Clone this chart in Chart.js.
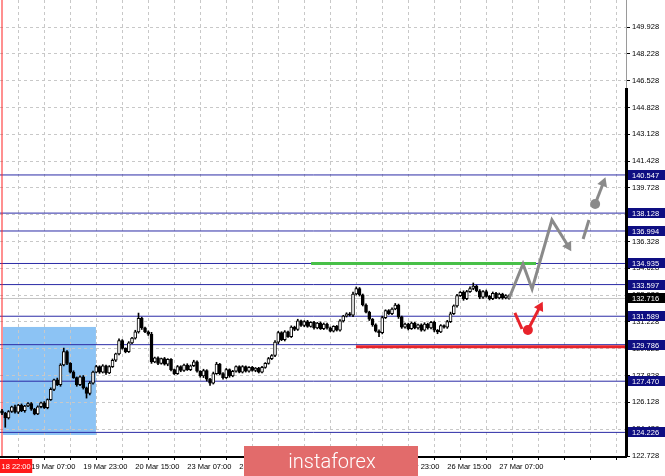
<!DOCTYPE html>
<html>
<head>
<meta charset="utf-8">
<script src="https://cdn.jsdelivr.net/npm/chart.js@4.4.1/dist/chart.umd.min.js"></script>
<style>
  html, body { margin: 0; padding: 0; background: #fff; }
  #wrap { width: 665px; height: 476px; }
</style>
</head>
<body>
<div id="wrap"><canvas id="chart" width="665" height="476"></canvas></div>
<script>
// --- Hourly candles, 18 Mar 22:00 onwards ---
const firstOpen = 125.60;
const closes = [
  125.45, 125.15, 125.55, 125.85, 125.50, 125.95, 125.60, 125.90, 126.05, 125.70,
  125.40, 125.85, 126.10, 125.80, 126.30, 126.95, 127.55, 127.25, 128.50, 129.35,
  128.60, 128.05, 127.70, 127.25, 127.75, 127.05, 126.70, 127.35, 128.05, 128.40,
  128.05, 128.45, 128.00, 128.40, 128.80, 129.20, 130.05, 129.55, 129.35, 129.90,
  130.20, 130.60, 131.45, 130.85, 130.60, 130.45, 128.70, 128.95, 128.60, 128.90,
  128.55, 128.85, 128.20, 127.95, 128.40, 128.15, 128.50, 128.20, 128.45, 128.70,
  128.10, 127.80, 128.15, 127.60, 127.35, 127.95, 128.55, 127.95, 127.70, 128.20,
  127.80, 128.10, 128.40, 128.05, 128.40, 128.10, 128.35, 128.15, 128.30, 128.05,
  128.35, 128.60, 128.90, 129.10, 129.95, 130.55, 130.10, 130.60, 130.30, 130.90,
  130.75, 131.30, 131.00, 131.25, 130.95, 131.20, 130.85, 131.15, 130.80, 131.10,
  130.85, 130.65, 130.95, 130.70, 131.30, 131.60, 131.75, 131.65, 133.00, 133.35,
  132.95, 132.30, 131.85, 131.40, 131.05, 130.65, 130.55, 131.50, 131.95, 131.75,
  132.05, 132.30, 131.55, 130.90, 131.10, 130.80, 131.15, 130.85, 131.05, 130.70,
  131.10, 130.85, 131.20, 130.70, 130.60, 131.00, 130.90, 131.25, 131.75, 132.25,
  132.90, 133.10, 132.70, 133.15, 133.35, 133.50, 133.20, 132.80, 133.15, 132.85,
  132.70, 133.05, 132.75, 133.00, 132.75, 132.90, 132.716
];
// wick lengths above / below the body, in hundredths
const wickUp = [
  8, 5, 6, 4, 10, 5, 8, 4, 6, 7,
  5, 6, 4, 8, 5, 10, 6, 12, 8, 22,
  6, 5, 8, 4, 6, 8, 5, 10, 6, 8,
  5, 7, 4, 6, 8, 5, 10, 6, 4, 8,
  6, 10, 34, 8, 5, 6, 12, 5, 6, 4,
  8, 5, 6, 4, 7, 5, 6, 8, 5, 10,
  6, 4, 8, 5, 6, 10, 12, 5, 6, 8,
  5, 6, 4, 5, 6, 4, 5, 6, 4, 5,
  6, 5, 8, 6, 10, 8, 6, 8, 5, 8,
  6, 10, 5, 6, 8, 5, 6, 5, 8, 6,
  5, 6, 4, 6, 8, 5, 6, 8, 12, 10,
  6, 5, 8, 6, 5, 6, 8, 10, 5, 6,
  8, 10, 6, 5, 6, 5, 8, 6, 5, 6,
  8, 5, 6, 8, 5, 6, 5, 8, 10, 6,
  8, 6, 10, 8, 10, 20, 6, 8, 6, 10,
  6, 8, 5, 6, 5, 6, 5
];
const wickDn = [
  10, 60, 8, 6, 5, 8, 6, 10, 5, 8,
  6, 5, 8, 6, 8, 5, 8, 6, 10, 6,
  8, 6, 5, 10, 6, 8, 30, 10, 6, 5,
  8, 6, 10, 5, 6, 8, 6, 5, 8, 6,
  5, 6, 8, 10, 6, 8, 10, 6, 8, 5,
  6, 10, 8, 6, 5, 8, 6, 5, 6, 5,
  6, 8, 10, 12, 15, 6, 5, 8, 10, 6,
  8, 5, 6, 5, 6, 5, 6, 5, 8, 6,
  5, 6, 5, 6, 8, 10, 6, 8, 5, 6,
  8, 6, 5, 8, 6, 5, 8, 6, 5, 6,
  8, 5, 6, 5, 6, 8, 6, 5, 8, 6,
  8, 6, 5, 8, 10, 6, 25, 8, 6, 5,
  6, 5, 10, 8, 6, 8, 5, 6, 8, 6,
  5, 8, 6, 10, 12, 5, 6, 8, 6, 5,
  8, 6, 10, 6, 5, 8, 6, 10, 8, 6,
  8, 6, 5, 6, 8, 6, 5
];

// --- Axes ---
const yTicks = [122.728, 124.428, 126.128, 127.828, 129.528, 131.228, 132.928, 134.628,
  136.328, 138.028, 139.728, 141.428, 143.128, 144.828, 146.528, 148.228, 149.928];
const xLabelBars = [9, 25, 41, 57, 73, 89, 105, 121, 137, 153];
const xLabels = ['19 Mar 07:00', '19 Mar 23:00', '20 Mar 15:00', '23 Mar 07:00', '23 Mar 23:00',
  '24 Mar 15:00', '25 Mar 07:00', '25 Mar 23:00', '26 Mar 15:00', '27 Mar 07:00'];
const startLabel = '18 22:00';
const xMin = -0.62, xMax = 192.3;
const yMin = 122.665, yMax = 151.64;

// --- Levels and drawings ---
const levels = [140.547, 138.128, 136.994, 134.935, 133.597, 131.589, 129.786, 127.470, 124.226];
const lastPrice = 132.716;
const greenBars = [95.1, 164.3], greenPrices = [134.935, 134.935];
const redBars = [108.9, 191.7], redPrices = [129.66, 129.66];
const boxBars = [0.3, 28.9], boxPrices = [124.06, 130.91];
const greyPathBars = [156, 160.3, 163.1, 169.2, 174.2];
const greyPathPrices = [132.716, 134.90, 133.32, 137.69, 136.04];
const greyDashBars = [178.8, 180.6], greyDashPrices = [136.49, 137.69];
const greyArrowBars = [182.5, 185.0], greyArrowPrices = [138.71, 140.04];
const redDashBars = [157.8, 160.0], redDashPrices = [131.80, 130.78];
const redArrowBars = [161.8, 165.5], redArrowPrices = [130.72, 132.18];

const opens = closes.map((c, i) => i === 0 ? firstOpen : closes[i - 1]);
const highs = closes.map((c, i) => Math.max(c, opens[i]) + wickUp[i] / 100);
const lows = closes.map((c, i) => Math.min(c, opens[i]) - wickDn[i] / 100);

const pts = (xs, ys) => xs.map((x, i) => ({ x: x, y: ys[i] }));
const GREY = '#8a8a8a';
const RED = '#e8232b';

const lineSet = (data, color, width, order, extra) => Object.assign({
  type: 'line', data: data, borderColor: color, borderWidth: width,
  pointRadius: 0, pointHoverRadius: 0, tension: 0, fill: false, order: order
}, extra || {});

const datasets = [];
levels.forEach(v => datasets.push(lineSet(pts([xMin, xMax], [v, v]), '#2b2ba6', 1, 20)));
datasets.push(lineSet(pts([xMin, xMax], [lastPrice, lastPrice]), '#c4c4c4', 1, 21));
datasets.push(lineSet(pts([0, 0], [yMin, yMax]), '#ff2020', 1, 19));
datasets.push({
  type: 'bar', grouped: false, order: 6, barThickness: 1,
  backgroundColor: '#000', borderWidth: 0,
  data: closes.map((c, i) => ({ x: i, y: [lows[i], highs[i]] }))
});
datasets.push({
  type: 'bar', grouped: false, order: 5, barThickness: 3, minBarLength: 1,
  borderColor: '#000', borderWidth: 1, borderSkipped: false,
  backgroundColor: ctx => {
    const i = ctx.dataIndex;
    return closes[i] >= opens[i] ? '#fff' : '#000';
  },
  data: closes.map((c, i) => ({ x: i, y: [opens[i], c] }))
});
datasets.push(lineSet(pts(greenBars, greenPrices), '#48c048', 3, 3));
datasets.push(lineSet(pts(redBars, redPrices), RED, 3, 3));
datasets.push(lineSet(pts(greyPathBars, greyPathPrices), GREY, 3, 1, {
  pointRadius: [0, 0, 0, 0, 6], pointStyle: 'triangle',
  pointRotation: [0, 0, 0, 0, 149], pointBackgroundColor: GREY, pointBorderWidth: 0
}));
datasets.push(lineSet(pts(greyDashBars, greyDashPrices), GREY, 3, 1));
datasets.push(lineSet(pts(greyArrowBars, greyArrowPrices), GREY, 3, 1, {
  pointRadius: [5, 6], pointStyle: ['circle', 'triangle'],
  pointRotation: [0, 21], pointBackgroundColor: GREY, pointBorderWidth: 0
}));
datasets.push(lineSet(pts(redDashBars, redDashPrices), RED, 3, 1));
datasets.push(lineSet(pts(redArrowBars, redArrowPrices), RED, 3, 1, {
  pointRadius: [5, 6], pointStyle: ['circle', 'triangle'],
  pointRotation: [0, 28], pointBackgroundColor: RED, pointBorderWidth: 0
}));

// background box behind grid, frame + price tags + logo on top
const decor = {
  id: 'decor',
  beforeDraw(chart) {
    const { ctx, scales: { x, y } } = chart;
    ctx.save();
    ctx.fillStyle = '#fff';
    ctx.fillRect(0, 0, chart.width, chart.height);
    const x0 = x.getPixelForValue(boxBars[0]), x1 = x.getPixelForValue(boxBars[1]);
    const y0 = y.getPixelForValue(boxPrices[1]), y1 = y.getPixelForValue(boxPrices[0]);
    ctx.fillStyle = '#8cc3f4';
    ctx.fillRect(x0, y0, x1 - x0, y1 - y0);
    ctx.restore();
  },
  afterDraw(chart) {
    const { ctx, chartArea: a, scales: { y } } = chart;
    ctx.save();
    // frame
    ctx.fillStyle = '#000';
    ctx.fillRect(0, a.bottom - 1, a.right, 2);
    ctx.fillRect(a.right - 2, 88, 3, a.bottom - 88);
    ctx.fillStyle = '#9a9a9a';
    ctx.fillRect(a.right - 1, 0, 1, 88);
    // price tags
    ctx.font = '7.5px "Liberation Sans", Arial, sans-serif';
    ctx.textBaseline = 'middle';
    const tag = (v, bg) => {
      const py = Math.round(y.getPixelForValue(v));
      ctx.fillStyle = bg;
      ctx.fillRect(a.right + 1, py - 5, chart.width - a.right - 1, 10);
      ctx.fillStyle = '#fff';
      ctx.fillText(v.toFixed(3), a.right + 5, py + 0.5);
    };
    levels.forEach(v => tag(v, '#0e0e82'));
    tag(lastPrice, '#000');
    // start time tag
    const w = ctx.measureText(startLabel).width + 3;
    ctx.fillStyle = '#ff1a1a';
    ctx.fillRect(0, a.bottom + 2, w, 14);
    ctx.fillStyle = '#fff';
    ctx.fillText(startLabel, 1.5, a.bottom + 9.5);
    // logo
    ctx.fillStyle = '#e26b6b';
    ctx.fillRect(244, 446, 174, 30);
    ctx.fillStyle = '#fff';
    ctx.font = '300 20px Roboto, "Open Sans", sans-serif';
    ctx.textAlign = 'center';
    ctx.textBaseline = 'alphabetic';
    ctx.fillText('instaforex', 332, 468);
    ctx.restore();
  }
};

const noPad = s => { s.paddingTop = 0; s.paddingBottom = 0; s.paddingLeft = 0; s.paddingRight = 0; };

Chart.defaults.font.family = '"Liberation Sans", Arial, sans-serif';
Chart.defaults.font.size = 7.5;
Chart.defaults.color = '#000';

new Chart(document.getElementById('chart'), {
  type: 'bar',
  data: { datasets: datasets },
  options: {
    responsive: false,
    animation: false,
    devicePixelRatio: 1,
    layout: { padding: 0, autoPadding: false },
    plugins: { legend: { display: false }, tooltip: { enabled: false } },
    scales: {
      x: {
        type: 'linear', min: xMin, max: xMax, offset: false,
        afterFit: s => { s.height = 19; noPad(s); },
        afterBuildTicks: s => {
          const t = [];
          for (let b = 1; b < xMax; b += 8) t.push({ value: b });
          s.ticks = t;
        },
        ticks: {
          autoSkip: false, maxRotation: 0, align: 'start', padding: 2,
          callback: v => {
            const k = xLabelBars.indexOf(v);
            return k >= 0 ? xLabels[k] : '';
          }
        },
        grid: { color: '#c8c8c8', tickColor: '#000', tickLength: 3 },
        border: { display: false, dash: [3, 3] }
      },
      y: {
        position: 'right', min: yMin, max: yMax,
        afterFit: s => { s.width = 38; noPad(s); },
        afterBuildTicks: s => { s.ticks = yTicks.map(v => ({ value: v })); },
        ticks: { padding: 2, callback: v => v.toFixed(3) },
        grid: { color: '#c8c8c8', tickColor: '#000', tickLength: 3 },
        border: { display: false, dash: [3, 3] }
      }
    }
  },
  plugins: [decor]
});
</script>
</body>
</html>
